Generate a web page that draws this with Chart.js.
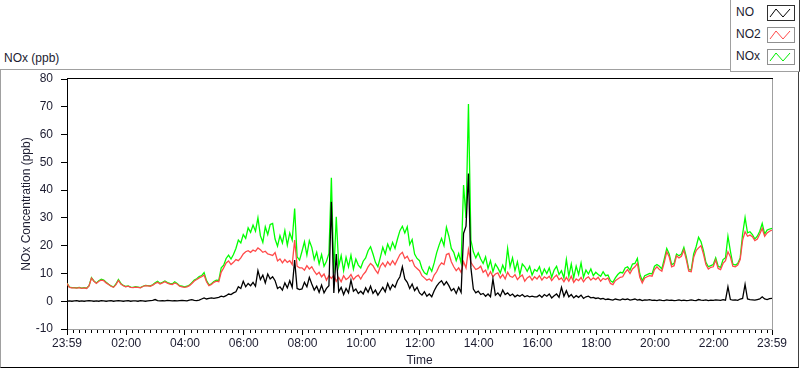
<!DOCTYPE html>
<html>
<head>
<meta charset="utf-8">
<script src="https://cdn.jsdelivr.net/npm/chart.js@4.4.1/dist/chart.umd.min.js"></script>
<style>
  body { margin: 0; background: #fff; }
  #wrap { position: relative; width: 800px; height: 369px; overflow: hidden; font-family: 'Liberation Sans', Arial, sans-serif; color: #1c1c30; }
  #frame { position: absolute; left: 0; top: 69px; width: 797px; height: 297px; border: 1px solid; border-color: #a0a0a0 #404040 #000 #a0a0a0; }
  #caption { position: absolute; left: 4px; top: 51px; font-size: 12px; }
  #chart { position: absolute; left: 0; top: 0; }
  #legend { position: absolute; left: 730px; top: 0; width: 68px; height: 71px; background: #fff; border-left: 1px solid #a0a0a0; border-bottom: 1px solid #a0a0a0; border-right: 1px solid #404040; }
  .item { position: absolute; left: 5px; font-size: 12px; line-height: 15px; }
  .item svg { position: absolute; left: 31px; top: 0; }
</style>
</head>
<body>
<div id="wrap">
  <div id="frame"></div>
  <div id="caption">NOx (ppb)</div>
  <canvas id="chart" width="800" height="369"></canvas>
  <div id="legend">
    <div class="item" style="top:5px">NO<svg width="28" height="16"><rect x="0.5" y="0.5" width="27" height="15" fill="#fff" stroke="#303030"/><polyline points="3,12 9,4 16,12 23,4" fill="none" stroke="#000"/></svg></div>
    <div class="item" style="top:27px">NO2<svg width="28" height="16"><rect x="0.5" y="0.5" width="27" height="15" fill="#fff" stroke="#909090"/><polyline points="3,12 9,4 16,12 23,4" fill="none" stroke="#ff4a4a"/></svg></div>
    <div class="item" style="top:49px">NOx<svg width="28" height="16"><rect x="0.5" y="0.5" width="27" height="15" fill="#fff" stroke="#909090"/><polyline points="3,12 9,4 16,12 23,4" fill="none" stroke="#00ee00"/></svg></div>
  </div>
</div>
<script>
// one sample every 5 minutes starting at 23:59, one row per hour
const stepMinutes = 5;

const no = [
  0, 0.1, 0, 0.1, 0.2, 0, 0.1, 0, 0.1, 0.2, 0.1, 0,
  0.1, 0, 0.2, 0.1, 0, 0.1, 0.2, 0, 0.1, 0.2, 0.1, 0,
  0.1, 0.2, 0, 0.1, 0.1, 0, 0.2, 0.1, 0, 0.1, 0.2, 0.3,
  0.6, 0.2, 0.1, 0.2, 0.1, 0.3, 0.2, 0.1, 0.2, 0.1, 0.2, 0.3,
  0.2, 0.1, 0.4, 0.6, 0.3, 0.2, 0.4, 0.8, 1.2, 0.8, 1.0, 1.2,
  1.0, 1.2, 1.4, 1.8, 1.6, 2.0, 2.6, 2.4, 3.0, 3.4, 5.2, 4.6,
  7.2, 5.2, 6.4, 5.6, 6.8, 5.4, 11.0, 7.8, 9.4, 6.6, 9.8, 8.0,
  8.8, 7.4, 4.6, 5.2, 4.0, 6.6, 4.8, 7.4, 5.0, 14.8, 4.6, 4.2,
  4.4, 6.8, 5.2, 8.6, 6.2, 4.0, 5.4, 3.2, 5.8, 3.0, 4.6, 5.6,
  35.8, 3.0, 17.0, 3.4, 5.0, 2.4, 4.6, 3.0, 7.6, 3.6, 4.4, 2.8,
  3.6, 2.6, 4.8, 3.2, 5.4, 2.8, 4.0, 2.2, 3.6, 5.0, 3.4, 6.4,
  4.2, 6.0, 5.0, 7.4, 8.8, 12.4, 8.0, 6.8, 4.6, 6.2, 3.8, 5.0,
  3.0, 2.2, 3.4, 1.8, 2.6, 1.6, 3.8, 5.4, 6.6, 7.4, 5.8, 7.0,
  5.6, 3.8, 4.6, 2.8, 5.0, 3.2, 24.4, 27.0, 46.0, 12.0, 4.4, 3.0,
  3.6, 2.4, 2.8, 1.8, 2.6, 1.6, 8.0, 2.2, 3.0, 1.8, 4.0, 2.4,
  3.0, 2.0, 2.6, 1.6, 2.2, 1.8, 2.4, 1.6, 2.0, 1.6, 1.8, 1.6,
  1.6, 2.2, 1.4, 2.4, 1.8, 2.6, 1.2, 2.0, 2.6, 1.4, 5.0, 1.8,
  3.8, 1.6, 2.4, 1.2, 2.0, 1.4, 2.2, 1.0, 1.6, 1.8, 1.2, 1.4,
  1.0, 1.2, 0.8, 1.0, 0.6, 0.8, 0.6, 0.4, 0.8, 0.6, 0.4, 0.8,
  0.6, 0.8, 0.4, 0.6, 0.8, 0.4, 0.6, 0.2, 0.5, 0.4, 0.6, 0.3,
  0.4, 0.2, 0.5, 0.3, 0.2, 0.5, 0.3, 0.4, 0.2, 0.3, 0.5, 0.2,
  0.4, 0.2, 0.3, 0.5, 0.3, 0.2, 0.6, 0.4, 0.3, 0.5, 0.2, 0.4,
  0.3, 0.5, 0.4, 0.3, 0.6, 0.4, 5.2, 0.6, 0.4, 0.5, 0.3, 0.8,
  1.0, 6.1, 0.8, 0.6, 0.5, 0.4, 0.6, 0.8, 1.6, 0.8, 0.6, 0.9,
  1.0
];

const no2 = [
  6.4, 5.0, 4.8, 4.8, 4.7, 4.9, 4.6, 4.8, 4.6, 5.5, 8.3, 7.2,
  6.4, 7.2, 7.6, 7.4, 6.6, 6.0, 5.4, 5.0, 6.0, 7.5, 6.2, 5.6,
  5.2, 5.4, 5.0, 4.9, 5.1, 5.0, 4.8, 5.3, 5.6, 5.5, 5.4, 5.8,
  6.4, 6.8, 6.2, 6.6, 7.0, 6.5, 6.2, 6.0, 6.6, 6.2, 5.4, 5.2,
  5.0, 5.2, 5.6, 6.4, 7.3, 7.8, 8.4, 8.8, 9.4, 7.0, 5.6, 6.0,
  6.8, 7.2, 7.0, 10.5, 12.0, 13.8, 14.5, 13.2, 14.0, 15.0, 14.6, 15.6,
  17.0, 17.8, 18.2, 17.6, 18.4, 18.0, 19.2, 18.5, 17.6, 18.0, 17.0, 16.8,
  16.5, 17.5, 14.5, 15.2, 13.8, 15.0, 14.0, 14.6, 13.2, 22.0, 12.6, 12.0,
  12.0, 11.2, 12.8, 11.6, 12.4, 10.8, 9.6, 10.4, 8.8, 9.8, 7.6, 9.2,
  8.2, 9.4, 7.2, 8.6, 7.0, 9.2, 7.8, 8.4, 9.6, 7.8, 8.8, 9.4,
  8.0, 9.6, 10.6, 12.4, 13.6, 12.8, 11.2, 10.0, 12.6, 13.8, 12.4, 14.2,
  13.0, 14.6, 13.2, 15.0, 16.8, 17.6, 15.4, 16.2, 14.4, 14.8, 12.6, 11.8,
  11.0, 9.2, 8.4, 7.6, 8.0, 7.2, 9.4, 10.6, 12.6, 13.8, 13.2, 16.8,
  17.2, 14.2, 12.4, 11.0, 12.0, 10.4, 14.2, 12.0, 18.6, 14.0, 12.6, 11.4,
  11.8, 12.6, 10.4, 11.2, 9.0, 10.6, 8.8, 9.8, 10.2, 8.4, 9.6, 8.0,
  10.4, 9.0, 8.6, 9.6, 7.8, 8.8, 9.4, 7.2, 8.4, 9.0, 7.6, 8.8,
  8.0, 9.2, 7.6, 8.8, 8.2, 9.0, 7.4, 8.6, 9.4, 7.8, 8.4, 7.0,
  8.6, 7.2, 9.0, 6.8, 8.0, 7.4, 8.6, 7.0, 8.2, 8.8, 7.6, 8.4,
  7.8, 8.6, 7.2, 8.2, 7.8, 8.4, 6.4, 6.0, 7.4, 8.0, 8.6, 8.8,
  10.4, 11.4, 10.0, 11.6, 12.4, 13.6, 8.6, 6.6, 8.4, 8.8, 9.2, 9.0,
  11.4, 12.4, 11.4, 10.8, 14.0, 17.8, 16.0, 12.4, 12.8, 16.4, 15.6, 16.2,
  18.4, 15.0, 10.8, 10.6, 15.8, 18.2, 19.2, 20.0, 17.0, 13.2, 11.6, 12.2,
  12.4, 14.8, 11.8, 11.4, 13.6, 14.6, 17.8, 16.0, 12.6, 12.4, 13.0, 15.0,
  22.0, 25.0, 23.4, 23.8, 23.2, 21.8, 22.4, 24.2, 26.2, 23.4, 24.6, 25.2,
  25.6
];

const nox = [
  6.5, 5.1, 4.9, 4.9, 4.8, 5.0, 4.7, 4.9, 4.7, 5.6, 8.5, 7.3,
  6.6, 7.4, 7.9, 7.6, 6.8, 6.1, 5.5, 5.1, 6.2, 7.8, 6.4, 5.7,
  5.3, 5.5, 5.1, 5.0, 5.2, 5.1, 4.9, 5.4, 5.7, 5.6, 5.5, 5.9,
  6.6, 7.2, 6.4, 6.8, 7.3, 6.7, 6.4, 6.2, 7.0, 6.4, 5.6, 5.4,
  5.2, 5.4, 5.8, 6.7, 7.6, 8.1, 8.9, 9.2, 10.3, 7.4, 5.9, 6.3,
  7.1, 7.6, 7.5, 12.0, 13.0, 15.4, 16.6, 15.2, 16.8, 19.0, 22.0, 21.0,
  24.0, 22.6, 26.4, 24.8, 27.4, 25.2, 30.0, 23.6, 21.2, 26.8, 24.0, 27.6,
  28.0, 22.4, 19.8, 23.6, 21.0, 25.4, 20.2, 24.6, 22.0, 33.4, 16.0, 14.8,
  18.0, 21.4, 16.6, 21.8, 19.4, 15.0, 17.6, 13.4, 16.8, 12.6, 14.4, 17.2,
  44.4, 10.0, 30.4, 12.6, 16.4, 11.0, 15.8, 12.4, 16.6, 11.6, 15.2, 13.0,
  12.0, 14.4, 15.6, 18.2, 19.6, 17.0, 14.0, 12.4, 15.8, 19.4, 17.0, 20.6,
  18.4, 21.2, 19.0, 22.4, 25.4, 27.0, 24.6, 26.8, 20.4, 22.2, 17.0, 15.4,
  14.6, 11.8, 10.2, 9.6, 12.4, 10.8, 13.8, 17.4, 20.2, 22.6, 20.0, 26.6,
  23.4, 19.0, 17.6, 14.6, 17.2, 13.8, 41.8, 30.0, 71.0, 22.0, 17.8, 15.6,
  17.4, 15.2, 13.6, 16.0, 11.8, 14.6, 10.6, 13.4, 12.0, 10.2, 13.0, 10.8,
  19.0, 12.4, 15.6, 11.0, 14.2, 9.6, 13.4, 12.4, 10.8, 12.6, 9.4, 11.4,
  10.8, 12.4, 9.4, 11.6, 10.0, 12.0, 8.6, 11.2, 12.6, 9.6, 11.0, 8.4,
  15.0, 9.0, 13.4, 8.4, 12.6, 9.6, 13.8, 8.6, 11.2, 9.8, 11.6, 9.2,
  10.4, 9.6, 9.0, 10.6, 9.2, 9.4, 7.4, 6.8, 8.4, 9.6, 10.4, 10.2,
  12.0, 12.4, 11.2, 13.4, 13.6, 15.4, 9.8, 7.4, 9.2, 9.6, 10.0, 9.8,
  12.6, 13.2, 12.6, 11.6, 15.2, 19.0, 17.0, 13.2, 13.6, 17.0, 16.4, 17.0,
  19.4, 16.0, 11.4, 11.2, 17.0, 19.6, 23.0, 21.4, 18.2, 14.0, 12.4, 12.8,
  13.2, 15.6, 12.6, 12.2, 15.0, 15.6, 23.4, 18.0, 13.4, 13.0, 13.6, 15.6,
  24.2, 30.1, 24.6, 25.0, 24.0, 22.4, 23.4, 25.2, 28.0, 24.2, 25.6, 26.0,
  26.2
];

// x axis ticks, minutes after 23:59
const tickMinutes = [0, 121, 241, 361, 481, 601, 721, 841, 961, 1081, 1201, 1321, 1440];
const tickLabels = ['23:59', '02:00', '04:00', '06:00', '08:00', '10:00', '12:00',
  '14:00', '16:00', '18:00', '20:00', '22:00', '23:59'];

const textColor = '#1c1c30';
const plainFont = "'Liberation Sans', Arial, sans-serif";

function toPoints(values) {
  return values.map((v, i) => ({ x: i * stepMinutes, y: v }));
}

// black top edge, grey right edge and the small minor ticks under the time axis
const framePlugin = {
  id: 'plotFrame',
  afterDraw(chart) {
    const { ctx, chartArea } = chart;
    const xScale = chart.scales.x;
    ctx.save();
    ctx.lineWidth = 1;
    ctx.strokeStyle = '#000';
    ctx.beginPath();
    ctx.moveTo(chartArea.left, chartArea.top - 0.5);
    ctx.lineTo(chartArea.right + 1, chartArea.top - 0.5);
    ctx.stroke();
    ctx.strokeStyle = '#a0a0a0';
    ctx.beginPath();
    ctx.moveTo(chartArea.right + 0.5, chartArea.top);
    ctx.lineTo(chartArea.right + 0.5, chartArea.bottom);
    ctx.stroke();
    ctx.strokeStyle = '#000';
    ctx.beginPath();
    for (let m = 1; m < 1440; m += 12) {
      if (tickMinutes.includes(m)) continue;
      const px = Math.round(xScale.getPixelForValue(m)) + 0.5;
      ctx.moveTo(px, chartArea.bottom + 1);
      ctx.lineTo(px, chartArea.bottom + 4);
    }
    ctx.stroke();
    ctx.restore();
  }
};

const ctx = document.getElementById('chart').getContext('2d');
new Chart(ctx, {
  type: 'line',
  data: {
    datasets: [
      { label: 'NO', data: toPoints(no), borderColor: '#000000', borderWidth: 1.3, pointRadius: 0, tension: 0 },
      { label: 'NO2', data: toPoints(no2), borderColor: '#ff4a4a', borderWidth: 1.3, pointRadius: 0, tension: 0 },
      { label: 'NOx', data: toPoints(nox), borderColor: '#00ff00', borderWidth: 1.3, pointRadius: 0, tension: 0 }
    ]
  },
  options: {
    responsive: false,
    animation: false,
    layout: { padding: { top: 79, right: 28, left: 0, bottom: 0 } },
    plugins: {
      legend: { display: false },
      tooltip: { enabled: false }
    },
    scales: {
      x: {
        type: 'linear',
        min: 0,
        max: 1440,
        afterBuildTicks: scale => { scale.ticks = tickMinutes.map(v => ({ value: v })); },
        afterFit: scale => { scale.height = 40; },
        ticks: {
          autoSkip: false,
          maxRotation: 0,
          padding: 1,
          color: textColor,
          font: { family: plainFont, size: 12 },
          callback: (value, index) => tickLabels[index]
        },
        grid: { drawOnChartArea: false, drawTicks: true, tickLength: 6, tickColor: '#000' },
        border: { color: '#a0a0a0' },
        title: { display: true, text: 'Time', color: textColor, font: { family: plainFont, size: 12 }, padding: { top: 0, bottom: 1 } }
      },
      y: {
        min: -10,
        max: 80,
        afterFit: scale => { scale.width = 67; },
        ticks: { stepSize: 10, padding: 8, color: textColor, font: { family: plainFont, size: 12 } },
        grid: { drawOnChartArea: false, drawTicks: true, tickLength: 6, tickColor: '#000' },
        border: { color: '#000' },
        title: { display: true, text: 'NOx Concentration (ppb)', color: textColor, font: { family: plainFont, size: 12 }, padding: { top: 19, bottom: 0 } }
      }
    }
  },
  plugins: [framePlugin]
});
</script>
</body>
</html>
